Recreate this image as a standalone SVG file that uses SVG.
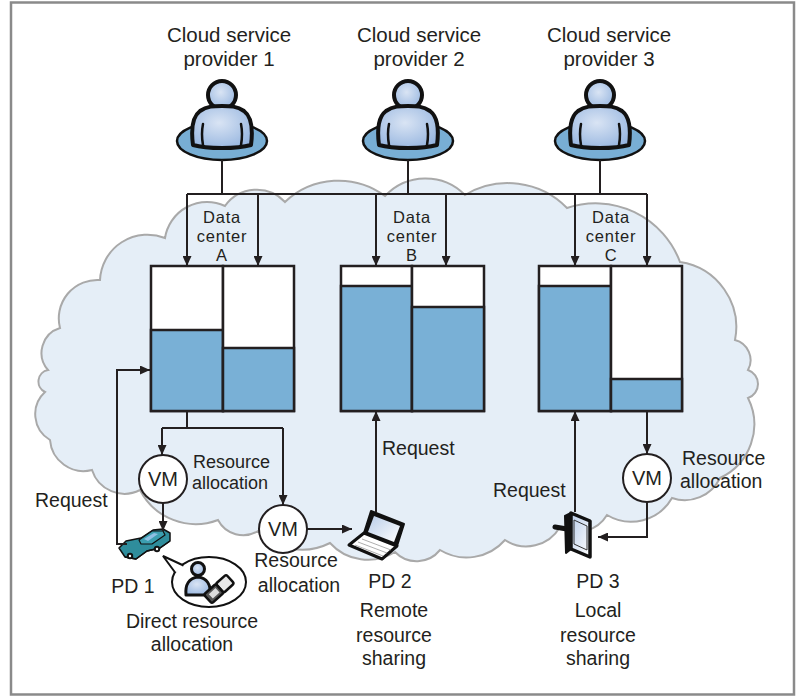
<svg xmlns="http://www.w3.org/2000/svg" width="808" height="696" viewBox="0 0 808 696">
  <style>
    .t { font-family: "Liberation Sans", "Open Sans", sans-serif; fill: #231f20; }
    .lg { font-size: 20.5px; }
    .md { font-size: 19.5px; }
    .sm { font-size: 18px; }
    .vmt { font-size: 20px; }
    .dc { font-size: 16.5px; letter-spacing: 0.8px; }
    .ln { fill: none; stroke: #231f20; stroke-width: 2; }
    .arr { fill: none; stroke: #231f20; stroke-width: 2; marker-end: url(#ah); }
    .box { fill: #ffffff; stroke: #231f20; stroke-width: 2.5; }
    .fill { fill: #79b0d6; stroke: #231f20; stroke-width: 2.5; }
    .vm { fill: #ffffff; stroke: #231f20; stroke-width: 2; }
    .ink { stroke: #111111; stroke-linejoin: round; }
  </style>
  <defs>
    <marker id="ah" markerUnits="userSpaceOnUse" markerWidth="10" markerHeight="9" refX="10" refY="4.5" orient="auto">
      <path d="M0,0 L10,4.5 L0,9 Z" fill="#231f20"/>
    </marker>
    <radialGradient id="skin" cx="0.45" cy="0.4" r="0.7">
      <stop offset="0" stop-color="#d9e4f4"/>
      <stop offset="1" stop-color="#93b3de"/>
    </radialGradient>
    <linearGradient id="screen" x1="0" y1="0" x2="1" y2="1">
      <stop offset="0" stop-color="#b9cde9"/>
      <stop offset="1" stop-color="#ffffff"/>
    </linearGradient>
    <g id="user">
      <ellipse cx="0" cy="141" rx="45" ry="19" fill="#78aed4" stroke="#111" stroke-width="2.5"/>
      <circle cx="0" cy="95" r="14" fill="url(#skin)" stroke="#111" stroke-width="4"/>
      <path d="M-29,145 C-31,130 -30,117 -22,111 C-15,106 -8,106 0,106 C8,106 15,106 22,111 C30,117 31,130 29,145 C15,149 -15,149 -29,145 Z" fill="url(#skin)" stroke="#111" stroke-width="4" stroke-linejoin="round"/>
      <path d="M-19,124 Q-21,134 -19,145 M19,124 Q21,134 19,145" fill="none" stroke="#111" stroke-width="2.5" stroke-linecap="round"/>
    </g>
  </defs>

  <!-- outer frame -->
  <rect x="11" y="2.5" width="783" height="692" fill="#ffffff" stroke="#8a8a8a" stroke-width="2.5"/>

  <!-- cloud -->
  <path id="cloud" d="M100,280 A47.5,47.5 0 0 1 165,238 A42.5,42.5 0 0 1 225,206 A39,39 0 0 1 285,202 A78,78 0 0 1 385,196 A55.5,55.5 0 0 1 465,195 A83,83 0 0 1 567,208 A90,90 0 0 1 680,262 A66,66 0 0 1 735,340 A20.7,20.7 0 0 1 748,370 A14.8,14.8 0 0 1 748,398 A59,59 0 0 1 720,478 A39,39 0 0 1 672,498 A47,47 0 0 1 607,515 A34.4,34.4 0 0 1 560,527 A39,39 0 0 1 505,540 A51,51 0 0 1 440,550 A30,30 0 0 1 395,552 A51,51 0 0 1 330,543 A61.5,61.5 0 0 1 258,531 A28.4,28.4 0 0 1 218,520 A62.6,62.6 0 0 1 140,490 A34,34 0 0 1 92,470 A33.7,33.7 0 0 1 50,440 A30,30 0 0 1 45,392 A11.7,11.7 0 0 1 48,370 A26,26 0 0 1 60,328 A38.5,38.5 0 0 1 100,280 Z" fill="#e5eef7" stroke="#a9a9a9" stroke-width="2"/>

  <!-- cloud service providers -->
  <g id="provider1">
    <text class="t lg" x="229" y="42" text-anchor="middle">Cloud service</text>
    <text class="t lg" x="229" y="66" text-anchor="middle">provider 1</text>
    <use href="#user" transform="translate(222,0)"/>
  </g>
  <g id="provider2">
    <text class="t lg" x="419" y="42" text-anchor="middle">Cloud service</text>
    <text class="t lg" x="419" y="66" text-anchor="middle">provider 2</text>
    <use href="#user" transform="translate(408,0)"/>
  </g>
  <g id="provider3">
    <text class="t lg" x="609" y="42" text-anchor="middle">Cloud service</text>
    <text class="t lg" x="609" y="66" text-anchor="middle">provider 3</text>
    <use href="#user" transform="translate(600,0)"/>
  </g>

  <!-- data centers: two servers each, blue = allocated share -->
  <g id="datacenterA">
    <text class="t dc" x="222" y="223" text-anchor="middle">Data</text>
    <text class="t dc" x="222" y="242" text-anchor="middle">center</text>
    <text class="t dc" x="222" y="261" text-anchor="middle">A</text>
    <rect class="box" x="151" y="266" width="72" height="145"/>
    <rect class="fill" x="151" y="330" width="72" height="81"/>
    <rect class="box" x="223" y="266" width="71" height="145"/>
    <rect class="fill" x="223" y="348" width="71" height="63"/>
  </g>
  <g id="datacenterB">
    <text class="t dc" x="412" y="223" text-anchor="middle">Data</text>
    <text class="t dc" x="412" y="242" text-anchor="middle">center</text>
    <text class="t dc" x="412" y="261" text-anchor="middle">B</text>
    <rect class="box" x="341" y="266" width="71" height="145"/>
    <rect class="fill" x="341" y="286" width="71" height="125"/>
    <rect class="box" x="412" y="266" width="72" height="145"/>
    <rect class="fill" x="412" y="307" width="72" height="104"/>
  </g>
  <g id="datacenterC">
    <text class="t dc" x="611" y="223" text-anchor="middle">Data</text>
    <text class="t dc" x="611" y="242" text-anchor="middle">center</text>
    <text class="t dc" x="611" y="261" text-anchor="middle">C</text>
    <rect class="box" x="539" y="266" width="72" height="145"/>
    <rect class="fill" x="539" y="286" width="72" height="125"/>
    <rect class="box" x="611" y="266" width="71" height="145"/>
    <rect class="fill" x="611" y="379" width="71" height="32"/>
  </g>

  <!-- virtual machines -->
  <g id="vm1">
    <circle class="vm" cx="163" cy="479" r="24"/>
    <text class="t vmt" x="163" y="486" text-anchor="middle">VM</text>
    <text class="t sm" x="193" y="468">Resource</text>
    <text class="t sm" x="192" y="489">allocation</text>
  </g>
  <g id="vm2">
    <circle class="vm" cx="283" cy="529" r="24"/>
    <text class="t vmt" x="283" y="536" text-anchor="middle">VM</text>
    <text class="t md" x="296" y="567" text-anchor="middle">Resource</text>
    <text class="t md" x="299" y="592" text-anchor="middle">allocation</text>
  </g>
  <g id="vm3">
    <circle class="vm" cx="647" cy="478" r="24"/>
    <text class="t vmt" x="647" y="485" text-anchor="middle">VM</text>
    <text class="t md" x="682" y="465">Resource</text>
    <text class="t md" x="680" y="488">allocation</text>
  </g>

  <!-- PD 1: car and direct allocation bubble -->
  <g id="pd1">
    <path class="ink" d="M119,548 L126,541 L141,538 L153,530 L163,529 L170,533 L170,541 L160,548 L147,551 L136,559 L125,557 Z" fill="#2f8d9c" stroke-width="1.5"/>
    <path class="ink" d="M139,540 L152,531 L163,531 L165,535 L152,544 L141,544 Z" fill="#3c9fb0" stroke-width="1.2"/>
    <path d="M144,539 L154,533 L158,534 L148,541 Z" fill="#8fc0e4"/>
    <path class="ink" d="M125,557 L136,559 L147,551 L160,548 L170,541" fill="none" stroke-width="1.5"/>
    <circle cx="130" cy="556" r="3.2" fill="#111"/>
    <circle cx="130" cy="556" r="1.2" fill="#fff"/>
    <circle cx="157" cy="549" r="3.2" fill="#111"/>
    <circle cx="157" cy="549" r="1.2" fill="#fff"/>
    <text class="t md" x="133" y="593" text-anchor="middle">PD 1</text>
    <ellipse cx="209" cy="582" rx="37" ry="25" fill="#fff" stroke="#111" stroke-width="2"/>
    <path d="M175.5,573 L163,556 L183.5,565.5" fill="#fff" stroke="#111" stroke-width="2" stroke-linejoin="miter"/>
    <circle cx="198" cy="569" r="6.5" fill="url(#skin)" stroke="#111" stroke-width="3"/>
    <path d="M186,595 C185,585 189,578 198,577 C207,578 211,585 210,595 Z" fill="url(#skin)" stroke="#111" stroke-width="3" stroke-linejoin="round"/>
    <g transform="translate(219,589) rotate(48)">
      <rect x="-6" y="-15" width="12" height="14" rx="2" fill="#e8e8e8" stroke="#111" stroke-width="2.5"/>
      <rect x="-6" y="-1" width="12" height="16" rx="2" fill="#555" stroke="#111" stroke-width="2.5"/>
      <rect x="-3" y="2" width="6" height="9" fill="#ddd"/>
    </g>
    <text class="t md" x="192" y="628" text-anchor="middle">Direct resource</text>
    <text class="t md" x="192" y="651" text-anchor="middle">allocation</text>
  </g>

  <!-- PD 2: laptop -->
  <g id="pd2">
    <path class="ink" d="M371,511 L404,524 L397,546 L364,533 Z" fill="#111" stroke-width="2"/>
    <path d="M374,516 L400,526 L394,542 L368,532 Z" fill="url(#screen)"/>
    <path class="ink" d="M364,533 L397,546 L382,559 L349,545 Z" fill="#fff" stroke-width="3"/>
    <path d="M358,542 L387,553 M362,539 L391,550 M355,545 L383,556" stroke="#999" stroke-width="0.8" fill="none"/>
    <text class="t md" x="390" y="588" text-anchor="middle">PD 2</text>
    <text class="t md" x="394" y="617" text-anchor="middle">Remote</text>
    <text class="t md" x="394" y="642" text-anchor="middle">resource</text>
    <text class="t md" x="394" y="665" text-anchor="middle">sharing</text>
  </g>

  <!-- PD 3: handheld -->
  <g id="pd3">
    <line x1="555" y1="527" x2="567" y2="529" stroke="#111" stroke-width="5" stroke-linecap="round"/>
    <path class="ink" d="M565,516 L571,513 L571,549 L566,553 Z" fill="#111" stroke-width="2"/>
    <path class="ink" d="M571,513 L590,521 L590,557 L571,549 Z" fill="url(#screen)" stroke-width="3.5"/>
    <path d="M574,520 L587,526 L587,550 L574,544 Z" fill="none" stroke="#333" stroke-width="1"/>
    <text class="t md" x="598" y="588" text-anchor="middle">PD 3</text>
    <text class="t md" x="598" y="617" text-anchor="middle">Local</text>
    <text class="t md" x="598" y="642" text-anchor="middle">resource</text>
    <text class="t md" x="598" y="665" text-anchor="middle">sharing</text>
  </g>

  <!-- request labels -->
  <text class="t md" x="35" y="507">Request</text>
  <text class="t md" x="382" y="455">Request</text>
  <text class="t md" x="493" y="497">Request</text>

  <!-- connectors -->
  <g id="connectors">
    <path class="ln" d="M222,160 V194 M408,160 V194 M600,160 V194 M187,194 H647"/>
    <path class="arr" d="M187,194 V266"/>
    <path class="arr" d="M258,194 V266"/>
    <path class="arr" d="M376,194 V266"/>
    <path class="arr" d="M446,194 V266"/>
    <path class="arr" d="M575,194 V266"/>
    <path class="arr" d="M647,194 V266"/>
    <path class="ln" d="M187,411 V428 M162,428 H283"/>
    <path class="arr" d="M162,428 V455"/>
    <path class="arr" d="M283,428 V505"/>
    <path class="arr" d="M163,503 V531"/>
    <path class="arr" d="M307,529 H352"/>
    <path class="arr" d="M127,544 H117 V370 H150"/>
    <path class="arr" d="M376,512 V411"/>
    <path class="arr" d="M575,512 V411"/>
    <path class="arr" d="M647,411 V454"/>
    <path class="arr" d="M647,502 V537 H598"/>
  </g>
</svg>
